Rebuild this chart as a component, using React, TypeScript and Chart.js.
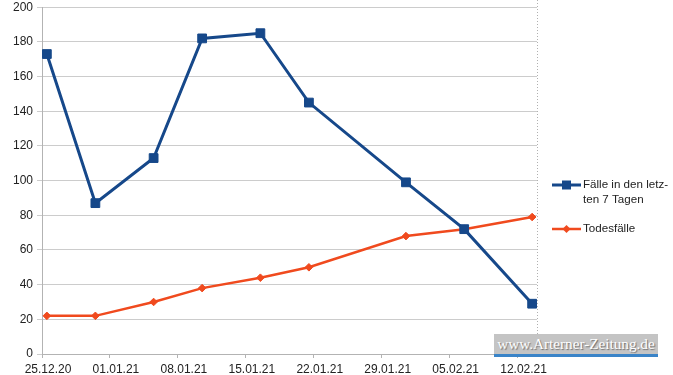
import { useEffect, useRef } from "react";
import { Chart, registerables } from "chart.js";

Chart.register(...registerables);

// ---- data ----
const startDate = "25.12.20";
const endDate = "14.02.21";
const dates = ["25.12.20", "30.12.20", "05.01.21", "10.01.21", "16.01.21", "21.01.21", "31.01.21", "06.02.21", "13.02.21"];
const cases = [173, 87, 113, 182, 185, 145, 99, 72, 29];
const deaths = [22, 22, 30, 38, 44, 50, 68, 72, 79];
const tickDates = ["25.12.20", "01.01.21", "08.01.21", "15.01.21", "22.01.21", "29.01.21", "05.02.21", "12.02.21"];
const casesLabel = ["Fälle in den letz-", "ten 7 Tagen"];
const deathsLabel = ["Todesfälle"];
const watermark = "www.Arterner-Zeitung.de";

const BLUE = "#16488a";
const ORANGE = "#f04a1e";
const FONT = "'Liberation Sans', Arial, sans-serif";
const TEXT = "#222222";

function dayNumber(s: string): number {
  const [d, m, y] = s.split(".").map((v) => parseInt(v, 10));
  return Date.UTC(2000 + y, m - 1, d) / 86400000;
}
const start = dayNumber(startDate);
// points are centred in their day slot, as in the source spreadsheet
const toX = (s: string) => dayNumber(s) - start + 0.5;
const axisMax = dayNumber(endDate) - start;
const tickValues = tickDates.map((s) => dayNumber(s) - start);

const legendPlugin = {
  id: "customLegend",
  beforeDatasetsDraw(chart: any) {
    const { ctx, chartArea } = chart;
    ctx.save();
    ctx.strokeStyle = "#b0b0b0";
    ctx.lineWidth = 1;
    ctx.setLineDash([1, 2]);
    const x = Math.round(chartArea.right) + 0.5;
    ctx.beginPath();
    ctx.moveTo(x, 0);
    ctx.lineTo(x, chartArea.bottom);
    ctx.stroke();
    ctx.restore();
  },
  afterDraw(chart: any) {
    const { ctx, chartArea } = chart;
    const x0 = chartArea.right + 15;
    const lineLen = 29;
    const textX = x0 + lineLen + 2;
    const items = [
      { label: casesLabel, color: BLUE, y: 185, style: "rect" },
      { label: deathsLabel, color: ORANGE, y: 229, style: "diamond" },
    ];
    ctx.save();
    for (const it of items) {
      ctx.strokeStyle = it.color;
      ctx.fillStyle = it.color;
      ctx.lineWidth = it.style === "rect" ? 3 : 2.5;
      ctx.setLineDash([]);
      ctx.beginPath();
      ctx.moveTo(x0, it.y);
      ctx.lineTo(x0 + lineLen, it.y);
      ctx.stroke();
      const cx = x0 + lineLen / 2;
      ctx.beginPath();
      if (it.style === "rect") {
        ctx.rect(cx - 4.5, it.y - 4.5, 9, 9);
      } else {
        ctx.moveTo(cx - 4, it.y);
        ctx.lineTo(cx, it.y - 4);
        ctx.lineTo(cx + 4, it.y);
        ctx.lineTo(cx, it.y + 4);
        ctx.closePath();
      }
      ctx.fill();
      ctx.fillStyle = TEXT;
      ctx.font = `11.6px ${FONT}`;
      ctx.textBaseline = "middle";
      ctx.textAlign = "left";
      it.label.forEach((line, i) => ctx.fillText(line, textX, it.y + i * 14.5));
    }
    ctx.restore();
  },
};

export default function App() {
  const canvasRef = useRef<HTMLCanvasElement | null>(null);

  useEffect(() => {
    document.body.style.margin = "0";
    const canvas = canvasRef.current;
    if (!canvas) return;
    const chart = new Chart(canvas, {
      type: "line",
      data: {
        datasets: [
          {
            label: casesLabel.join(""),
            data: dates.map((d, i) => ({ x: toX(d), y: cases[i] })),
            borderColor: BLUE,
            backgroundColor: BLUE,
            borderWidth: 3,
            pointStyle: "rect",
            pointRadius: 6.2,
            pointBorderWidth: 1,
            pointBackgroundColor: BLUE,
            pointBorderColor: BLUE,
            tension: 0,
          },
          {
            label: deathsLabel.join(""),
            data: dates.map((d, i) => ({ x: toX(d), y: deaths[i] })),
            borderColor: ORANGE,
            backgroundColor: ORANGE,
            borderWidth: 2.5,
            pointStyle: "rectRot",
            pointRadius: 3.8,
            pointBorderWidth: 1,
            pointBackgroundColor: ORANGE,
            pointBorderColor: ORANGE,
            tension: 0,
          },
        ],
      },
      options: {
        animation: false,
        responsive: false,
        maintainAspectRatio: false,
        layout: { padding: { left: 0, top: 0, right: 136, bottom: 0 } },
        plugins: {
          legend: { display: false },
          tooltip: { enabled: false },
        },
        scales: {
          x: {
            type: "linear",
            min: 0,
            max: axisMax,
            afterBuildTicks: (axis: any) => {
              axis.ticks = tickValues.map((v) => ({ value: v }));
            },
            afterFit: (s: any) => {
              s.height = 21;
            },
            grid: { drawOnChartArea: false, drawTicks: true, tickLength: 4, color: "#b3b3b3" },
            border: { display: true, color: "#b3b3b3" },
            ticks: {
              autoSkip: false,
              maxRotation: 0,
              padding: 4,
              labelOffset: 6,
              color: TEXT,
              font: { family: FONT, size: 12 },
              callback: (_v: any, i: number) => tickDates[i],
            },
          },
          y: {
            min: 0,
            max: 200,
            afterFit: (s: any) => {
              s.width = 42;
              s.paddingTop = 6.5;
              s.paddingBottom = 0;
            },
            grid: { color: "#cccccc", tickLength: 5 },
            border: { display: true, color: "#b3b3b3" },
            ticks: {
              stepSize: 20,
              padding: 4,
              color: TEXT,
              font: { family: FONT, size: 12 },
            },
          },
        },
      },
      plugins: [legendPlugin],
    });
    return () => chart.destroy();
  }, []);

  return (
    <div style={{ position: "fixed", left: 0, top: 0, width: 673, height: 375, background: "#ffffff" }}>
      <canvas ref={canvasRef} width={673} height={375} style={{ display: "block" }} />
      <div
        style={{
          position: "absolute",
          left: 494,
          top: 334,
          width: 164,
          height: 20,
          background: "#c4c4c4",
          borderBottom: "3px solid #3a84c8",
          color: "#ffffff",
          fontFamily: "'Liberation Serif', 'DejaVu Serif', serif",
          fontSize: 15.2,
          lineHeight: "20px",
          textAlign: "center",
          whiteSpace: "nowrap",
          overflow: "hidden",
          textShadow: "1px 1px 1px #6e6e6e",
        }}
      >
        {watermark}
      </div>
    </div>
  );
}
